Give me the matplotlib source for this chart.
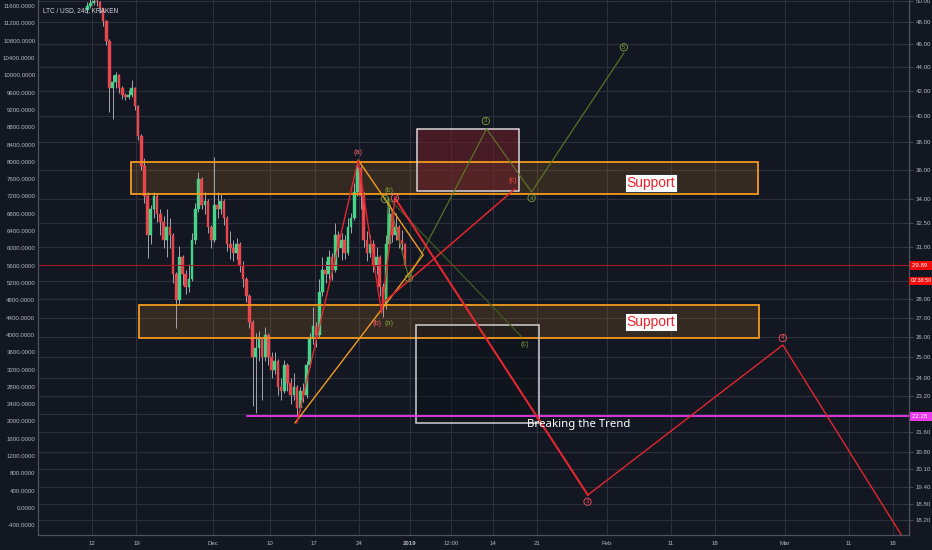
import numpy as np
import matplotlib
matplotlib.use('Agg')
import matplotlib.pyplot as plt
from matplotlib.patches import Rectangle
from matplotlib.transforms import blended_transform_factory

plt.rcParams['font.family'] = ['Liberation Sans', 'DejaVu Sans']

bg = '#131722'
grid_col = '#2c303c'
txt_col = '#b2b5be'
orange = '#f29a1e'
red = '#e3262f'
olive = '#5d7a25'
olive_txt = '#7fa03a'
magenta = '#e83ae8'

# --- data (days after 12 Nov 2018, 12h bars) ---
first_open = 11500
closes = [11600, 11680, 11720, 11700, 11550, 11250, 10800, 9700, 9850, 10000,
          9700, 9550, 9500, 9550, 9700, 9300, 8600, 7900, 7200, 6300,
          6900, 7200, 6800, 6600, 6200, 6500, 6300, 5400, 4800, 5800,
          5400, 5100, 5300, 6200, 6900, 7600, 7000, 7100, 6500, 6200,
          7000, 6900, 7100, 6700, 6100, 6000, 5900, 6100, 5600, 5300,
          4900, 4300, 3500, 3700, 3900, 3500, 4000, 3500, 3200, 3400,
          2800, 2700, 3300, 2900, 2600, 2800, 2300, 2700, 2600, 3300,
          3900, 4200, 4000, 5000, 5500, 5400, 5800, 5500, 6300, 6000,
          6200, 5900, 6500, 6700, 7300, 7850, 7200, 6200, 5900, 6100,
          5600, 5800, 5100, 4700, 6100, 6800, 6300, 6500, 6200, 6100,
          5620]
highs = [11700, 11760, 11800, 11800, 11720, 11560, 11280, 10850, 10000, 10080,
         10020, 9750, 9600, 9650, 9900, 9720, 9320, 8650, 8100, 7300,
         7000, 7300, 7250, 6900, 6750, 6900, 6700, 6350, 5450, 6050,
         5850, 5500, 5650, 6350, 7050, 7770, 7650, 7300, 7150, 6550,
         8110, 7300, 7250, 7150, 6750, 6400, 6200, 6250, 6150, 5700,
         5350, 4950, 4350, 4050, 4100, 3950, 4190, 4050, 3600, 3600,
         3450, 3000, 3430, 3350, 3000, 3130, 2850, 2800, 2900, 3400,
         4050, 4650, 4300, 5300, 5800, 5700, 5970, 5900, 6590, 6400,
         6360, 6300, 6700, 6820, 7500, 8050, 7900, 7300, 6400, 6300,
         6200, 6040, 5850, 5200, 6300, 6960, 6900, 6820, 6550, 6430,
         6130]
lows = [11450, 11550, 11620, 11600, 11450, 11150, 10700, 9150, 9000, 9700,
        9600, 9450, 9420, 9450, 9500, 9200, 8500, 7800, 7050, 5780,
        6100, 6700, 6600, 6300, 6000, 5800, 6000, 5200, 4170, 4700,
        5150, 4950, 5000, 5250, 6100, 6850, 6900, 6800, 6350, 6000,
        6150, 6700, 6800, 6550, 5950, 5750, 5700, 5750, 5450, 5100,
        4750, 4150, 2350, 2200, 3400, 2500, 3400, 3300, 3000, 3100,
        2600, 2500, 2650, 2700, 2400, 2500, 2130, 2250, 2450, 2550,
        3250, 3800, 3720, 3950, 4900, 5200, 5300, 5280, 5450, 5800,
        5740, 5750, 5850, 6360, 6650, 7200, 6900, 6040, 5700, 5800,
        5450, 5400, 4900, 4420, 4600, 6000, 6150, 6200, 6000, 5970,
        5580]

x_tick_days = [0, 7, 19, 28, 35, 42, 50, 56.5, 63, 70, 81, 91, 98, 109, 119, 126]
x_tick_labels = ['12', '19', 'Dec', '10', '17', '24', '2019', '12:00', '14', '21',
                 'Feb', '11', '18', 'Mar', '11', '18']
right_ticks = [50, 48, 46, 44, 42, 40, 38, 36, 34, 32.5, 31, 29, 28, 27, 26, 25,
               24, 23.2, 22.4, 21.6, 20.8, 20.1, 19.4, 18.8, 18.2]
hidden_right = [29, 22.4]   # covered by the price tags

last_price = 5620
last_right = 29.89
trend_price = 2115
trend_right = 22.28
trend_start = 24.4

# drawings, (day, price)
support_top = (6.08, 104.7, 7250, 7990)
support_low = (7.34, 104.9, 3929, 4691)
red_box = (51.05, 67.14, 7333, 8766)
white_box = (50.9, 70.3, 1964, 4222)

orange_tri = [(41.87, 8042), (52.09, 5847), (31.92, 1964)]
red_wave = [(32.23, 1964), (41.87, 8042), (45.55, 4506), (47.64, 7164)]
red_drop = [(47.64, 7164), (77.99, 300)]
red_tail = [(77.99, 300), (108.65, 3767), (127.3, -624)]
red_c = [(45.75, 4738), (66.5, 7372)]
green_ab = [(46.34, 4738), (46.59, 7164)]
green_bc = [(46.59, 7164), (67.6, 3952)]
green_imp = [(46.59, 7164), (49.84, 5315), (62.06, 8759), (69.14, 7303), (83.65, 10515)]

fig = plt.figure(figsize=(9.32, 5.5), dpi=100, facecolor=bg)
ax = fig.add_axes([38 / 932, 15 / 550, 871 / 932, 535 / 550])
ax2 = ax.twinx()
ax.set_zorder(ax2.get_zorder() + 1)
ax.patch.set_visible(False)
ax2.set_facecolor(bg)

ax.set_xlim(-8.49, 128.5)
ax.set_ylim(-624, 11740)
ax2.set_yscale('log')
ax2.set_ylim(17.683, 50.146)

# grid
ax.set_xticks(x_tick_days)
ax.set_xticklabels(x_tick_labels)
for lbl in ax.get_xticklabels():
    if lbl.get_text() == '2019':
        lbl.set_fontweight('bold')
ax.grid(axis='x', color=grid_col, lw=0.8)
ax.set_axisbelow(True)
ax2.yaxis.set_minor_locator(matplotlib.ticker.NullLocator())
ax2.set_yticks(right_ticks)
ax2.set_yticklabels(['' if v in hidden_right else '%.2f' % v for v in right_ticks])
ax2.grid(axis='y', color=grid_col, lw=0.8)

ax.set_yticks(np.arange(-400, 11601, 400))
ax.set_yticklabels(['%.4f' % v for v in np.arange(-400, 11601, 400)])

ax.tick_params(axis='y', length=0, pad=2, labelsize=4.4, labelcolor=txt_col)
ax.tick_params(axis='x', length=0, pad=4, labelsize=4.4, labelcolor=txt_col)
ax2.tick_params(axis='y', length=3, width=0.6, color='#50535e', pad=2, labelsize=4.4,
                labelcolor=txt_col)
for a in (ax, ax2):
    for s in a.spines.values():
        s.set_color('#50535e')
        s.set_linewidth(0.8)
    a.spines['top'].set_visible(False)

# boxes
def box(spec, fc, ec, lw, alpha_fc):
    x0, x1, y0, y1 = spec
    ax.add_patch(Rectangle((x0, y0), x1 - x0, y1 - y0, facecolor=fc, alpha=alpha_fc,
                           edgecolor='none', zorder=1))
    ax.add_patch(Rectangle((x0, y0), x1 - x0, y1 - y0, facecolor='none',
                           edgecolor=ec, lw=lw, zorder=3))

box(support_top, orange, orange, 1.3, 0.15)
box(support_low, orange, orange, 1.3, 0.15)
box(red_box, '#6a1f2a', '#d8d4d6', 1.1, 0.6)
box(white_box, '#0c1016', '#d0d0d0', 1.1, 0.4)

# candles
closes = np.array(closes, dtype=float)
opens = np.concatenate([[first_open], closes[:-1]])
bar_days = np.arange(len(closes)) * 0.5 - 0.75
up = closes >= opens
colors = np.where(up, '#45d38a', '#e6464c')
ax.vlines(bar_days, lows, highs, color='#a3a5ad', lw=0.7, zorder=2)
ax.bar(bar_days, closes - opens, bottom=opens, width=0.42, color=colors,
       edgecolor=colors, lw=0.3, zorder=2)

# horizontal lines
ax.axhline(last_price, color='#a01c22', lw=0.8, zorder=2.5)
ax.plot([trend_start, 128.5], [trend_price, trend_price], color=magenta, lw=1.3, zorder=3)

def poly(pts, color, lw):
    xs, ys = zip(*pts)
    ax.plot(xs, ys, color=color, lw=lw, zorder=4, solid_capstyle='round')

poly(green_imp, olive, 0.8)
poly(green_bc, '#3f5a23', 0.9)
poly(green_ab, '#3fbf5a', 0.9)
poly(orange_tri, orange, 1.0)
poly(red_wave, red, 1.0)
poly(red_c, red, 1.1)
poly(red_drop, red, 1.5)
poly(red_tail, red, 1.0)

def tag(x, y, s, color):
    ax.text(x, y, s, color=color, fontsize=5.2, ha='center', va='center', zorder=6)

def circ(x, y, s, color):
    ax.text(x, y, s, color=color, fontsize=4.2, ha='center', va='center', zorder=6,
            bbox=dict(boxstyle='circle,pad=0.2', fc='none', ec=color, lw=0.6))

tag(41.87, 8211, '(a)', '#ff6070')
tag(46.75, 7349, '(b)', olive_txt)
tag(44.86, 4275, '(b)', '#ff6070')
tag(46.75, 4275, '(a)', olive_txt)
tag(66.24, 7564, '(c)', '#ff4a4a')
tag(68.08, 3790, '(c)', olive_txt)

circ(46.07, 7141, '1', olive_txt)
circ(47.64, 7164, '2', '#ff6070')
circ(49.84, 5315, '2', olive_txt)
circ(61.95, 8944, '3', olive_txt)
circ(69.14, 7164, '4', olive_txt)
circ(83.65, 10647, '5', olive_txt)
circ(77.94, 146, '3', '#ff5060')
circ(108.65, 3929, '4', '#ff5060')

for yv in (7511, 4298):
    ax.text(87.9, yv, 'Support', color='#f0232b', fontsize=10, ha='center', va='center',
            zorder=7, bbox=dict(boxstyle='square,pad=0.12', fc='white', ec='#222222', lw=0.6))
ax.text(76.57, 1941, 'Breaking the Trend', color='white', fontsize=8.2, ha='center',
        va='center', zorder=7, family=['Noto Sans', 'DejaVu Sans'])

ax.text(0.006, 0.981, 'LTC / USD, 240, KRAKEN', transform=ax.transAxes, color='#d1d4dc',
        fontsize=4.7, ha='left', va='center', zorder=7)

# right side price tags
tr = blended_transform_factory(ax.transAxes, ax2.transData)
ax.text(1.004, last_right, '29.89 ', transform=tr, color='white', fontsize=4.4,
        ha='left', va='center', clip_on=False, zorder=8,
        bbox=dict(boxstyle='square,pad=0.35', fc='#f20d0d', ec='none'))
ax.text(1.002, 28.85 * 1.006, '02:38:50', transform=tr, color='white', fontsize=3.9,
        ha='left', va='center', clip_on=False, zorder=8,
        bbox=dict(boxstyle='square,pad=0.3', fc='#f20d0d', ec='none'))
ax.text(1.004, trend_right, '22.28 ', transform=tr, color='white', fontsize=4.4,
        ha='left', va='center', clip_on=False, zorder=8,
        bbox=dict(boxstyle='square,pad=0.35', fc=magenta, ec='none'))

fig.savefig('out.png', dpi=100, facecolor=bg)
